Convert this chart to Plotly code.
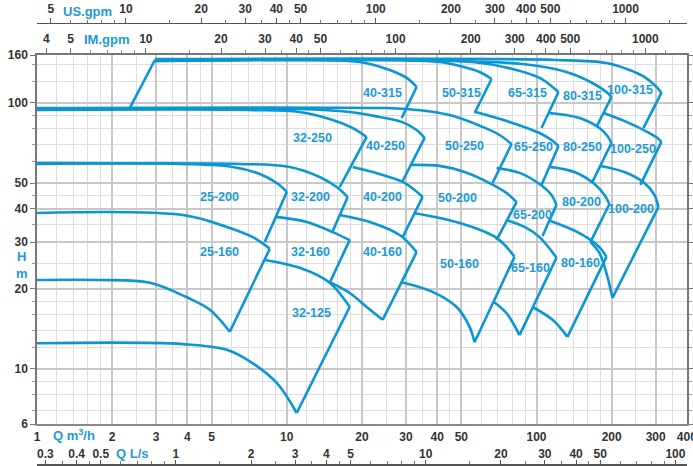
import numpy as np
import plotly.graph_objects as go

# ---------------- axis ticks ----------------
q_ticks = [1, 2, 3, 4, 5, 10, 20, 30, 40, 50, 100, 200, 300, 400]
q_minor = [1.2, 1.4, 1.6, 1.8, 2.5, 3.5, 4.5, 6, 7, 8, 9, 12, 14, 16, 18, 25, 35, 45,
           60, 70, 80, 90, 120, 140, 160, 180, 250, 350]
h_ticks = [6.21, 10, 20, 30, 40, 50, 100, 151.5]
h_tick_text = ["6", "10", "20", "30", "40", "50", "100", "160"]
h_minor = [7, 8, 9, 12, 14, 16, 18, 25, 35, 45, 60, 70, 80, 90, 120, 140]
us_ticks = [5, 10, 20, 30, 40, 50, 100, 200, 300, 400, 500, 1000]
us_minor = [6, 7, 8, 9, 15, 25, 35, 45, 60, 70, 80, 90, 150, 250, 350, 450, 600, 700, 800, 900, 1500]
im_ticks = [4, 5, 10, 20, 30, 40, 50, 100, 200, 300, 400, 500, 1000]
im_minor = [6, 7, 8, 9, 15, 25, 35, 45, 60, 70, 80, 90, 150, 250, 350, 450, 600, 700, 800, 900, 1200]
ls_ticks = [0.3, 0.4, 0.5, 1, 2, 3, 4, 5, 10, 20, 30, 40, 50, 100]
ls_minor = [0.35, 0.45, 0.6, 0.7, 0.8, 0.9, 1.5, 2.5, 3.5, 4.5, 6, 7, 8, 9, 15, 25, 35, 45, 60, 70, 80, 90]

Q_RANGE = [1, 400.4]        # m3/h
H_RANGE = [6.21, 151.5]     # m
US_PER_M3H = 4.403
IM_PER_M3H = 3.666
LS_PER_M3H = 1 / 3.6

# ---------------- pump curves (Q m3/h, H m) ----------------
# top (max) curve of each tile, ending at its right-hand vertex
row_315 = {
    "40-315": ([2.965, 11.27, 19.59, 25.82, 30.20, 33.11], [145.1, 145.1, 142.6, 133.1, 124.2, 114.9]),
    "50-315": ([2.965, 28.31, 40.93, 49.20, 59.16, 66.07], [145.1, 145.1, 142.6, 137.8, 130.8, 123.1]),
    "65-315": ([2.965, 55.46, 80.17, 102.8, 115.9, 122.5], [143.8, 142.6, 134.2, 124.2, 114.9, 110.0]),
    "80-315": ([2.965, 87.90, 131.8, 167.5, 190.5, 199.5], [143.8, 140.2, 130.8, 118.9, 110.0, 105.3]),
    "100-315": ([2.965, 120.2, 190.5, 235.5, 270.4, 302.0, 316.2], [146.3, 145.1, 141.4, 133.1, 125.3, 114.9, 109.1]),
}
row_250 = {
    "32-250": ([1, 7.112, 11.27, 15.28, 18.37, 20.89], [94.1, 94.1, 92.5, 86.3, 80.5, 74.5]),
    "40-250": ([1, 11.27, 17.86, 23.55, 28.84, 33.11, 35.65], [94.9, 94.9, 92.5, 88.6, 84.9, 79.2, 73.9]),
    "50-250": ([1, 23.55, 30.20, 44.87, 60.81, 71.12, 79.43], [95.8, 95.8, 94.9, 90.1, 81.3, 75.8, 70.1]),
    "65-250": ([57.02, 77.98, 102.8, 114.8, 122.5], [92.5, 84.9, 77.1, 72.6, 68.9]),
    "80-250": ([111.7, 148.6, 178.6, 192.3, 199.5], [91.7, 87.8, 80.5, 75.1, 70.7]),
    "100-250": ([185.4, 229.1, 283.1, 304.8, 316.2], [91.7, 84.9, 77.1, 73.9, 71.4]),
}
row_200 = {
    "25-200": ([1, 3.733, 6.081, 7.798, 9.120, 10.0], [59.5, 58.98, 57.5, 54.1, 50.0, 46.3]),
    "32-200": ([1, 6.486, 10.28, 13.55, 15.85, 17.54], [58.98, 58.98, 57.5, 52.7, 48.3, 44.3]),
    "40-200": ([18.37, 22.08, 29.11, 32.51, 34.99], [57.5, 55.0, 50.5, 47.1, 44.3]),
    "50-200": ([31.33, 40.93, 51.52, 64.86, 75.86, 83.18], [58.5, 58.0, 55.0, 50.0, 45.9, 42.4]),
    "65-200": ([69.18, 85.51, 102.8, 114.8, 120.2], [57.0, 54.6, 49.6, 45.1, 41.4]),
    "80-200": ([112.7, 141.9, 170.6, 187.1, 195.9], [57.5, 55.0, 49.6, 45.1, 41.7]),
    "100-200": ([180.3, 224.9, 270.4, 296.5, 307.6], [58.0, 55.0, 50.0, 45.1, 40.6]),
}
row_160 = {
    "25-160": ([1, 3.837, 5.754, 7.311, 8.551], [38.6, 37.9, 34.2, 31.3, 28.3]),
    "32-160": ([9.036, 12.02, 15.28, 17.86], [37.3, 35.7, 32.7, 30.5]),
    "40-160": ([16.29, 22.08, 28.31, 33.11], [37.9, 35.4, 31.9, 27.5]),
    "50-160": ([32.21, 49.20, 69.18, 81.66], [38.6, 35.4, 31.1, 26.4]),
    "65-160": ([75.86, 89.54, 102.8, 120.2], [36.3, 34.2, 31.3, 26.2]),
    "80-160": ([113.8, 148.6, 178.6, 190.5], [36.0, 32.4, 28.7, 26.4]),
}
row_125 = {
    "32-125": ([8.166, 11.27, 14.86, 16.75, 17.86], [25.7, 24.0, 21.1, 18.6, 17.1]),
}

# lower end of each tile's right-hand edge
edge_end = {
    "40-315": (28.84, 87.8), "50-315": (56.49, 91.7), "65-315": (104.7, 80.5),
    "80-315": (173.8, 81.3), "100-315": (267.9, 80.5),
    "32-250": (16.29, 48.3), "40-250": (29.11, 50.9), "50-250": (66.68, 50.0),
    "65-250": (104.7, 49.2), "80-250": (167.5, 50.5), "100-250": (260.6, 49.2),
    "25-200": (8.166, 30.0), "32-200": (15.28, 33.0), "40-200": (29.11, 31.3),
    "50-200": (69.18, 30.5), "65-200": (105.7, 31.6), "80-200": (164.4, 30.0),
    "100-200": (201.4, 18.5),
    "25-160": (5.916, 13.8), "32-160": (14.86, 21.1), "40-160": (24.21, 15.3),
    "50-160": (56.49, 12.6), "65-160": (85.51, 13.4), "80-160": (133.0, 13.2),
    "32-125": (10.96, 6.83),
}

# minimum-impeller curves of the lowest tiles
bottom_curves = {
    "25-160": ([1, 1.786, 2.831, 3.981, 4.920, 5.916], [21.6, 21.6, 21.1, 18.6, 16.7, 13.8]),
    "32-125": ([1, 3.837, 5.754, 7.311, 9.120, 10.96], [12.5, 12.4, 11.8, 10.5, 8.86, 6.83]),
    "40-160": ([14.86, 17.86, 20.89, 24.21], [21.2, 19.3, 17.1, 15.3]),
    "50-160": ([28.84, 38.37, 47.86, 53.95, 56.49], [21.2, 19.5, 17.1, 14.4, 12.6]),
    "65-160": ([67.3, 75.86, 85.51], [17.9, 16.2, 13.4]),
    "80-160": ([96.38, 115.9, 133.0], [17.1, 15.3, 13.2]),
    "100-200": ([164.4, 178.6, 192.3, 201.4], [30.0, 27.3, 22.2, 18.5]),
}
left_edge_40_315 = ([2.355, 2.965], [95.8, 145.1])

# tile labels (Q, H)
label_pos = {
    "40-315": (24.21, 109.1), "50-315": (50.1, 109.1), "65-315": (92.0, 109.1),
    "80-315": (152.8, 106.2), "100-315": (237.7, 111.9),
    "32-250": (12.71, 73.9), "40-250": (24.89, 68.9), "50-250": (51.52, 68.9),
    "65-250": (97.0, 68.3), "80-250": (152.8, 68.3), "100-250": (244.3, 67.2),
    "25-200": (5.395, 44.3), "32-200": (12.47, 44.3), "40-200": (24.21, 44.3),
    "50-200": (48.3, 43.9), "65-200": (96.38, 37.9), "80-200": (151.4, 42.4),
    "100-200": (239.9, 40.0),
    "25-160": (5.395, 27.5), "32-160": (12.47, 27.5), "40-160": (24.21, 27.5),
    "50-160": (49.2, 24.8), "65-160": (94.6, 24.0), "80-160": (150.0, 25.0),
    "32-125": (12.59, 16.2),
}

# ---------------- styling ----------------
LINE = "#0a96d4"
LABEL = "#1c9ad6"
TXT = "#333333"
FONT = "Liberation Sans, Arial, sans-serif"
W, Hgt = 693, 466
X_DOMAIN = [37 / W, 687 / W]
Y_DOMAIN = [(Hgt - 424) / Hgt, (Hgt - 55) / Hgt]

fig = go.Figure()


def add_line(q, h, shape="spline"):
    fig.add_trace(go.Scatter(x=q, y=h, mode="lines", xaxis="x", yaxis="y",
                             line=dict(color=LINE, width=2.6, shape=shape, smoothing=1.0),
                             hoverinfo="skip", showlegend=False))


for row in (row_315, row_250, row_200, row_160, row_125):
    for name, (q, h) in row.items():
        add_line(q, h, "spline")
        qe, he = edge_end[name]
        add_line([q[-1], qe], [h[-1], he], "linear")

for name, (q, h) in bottom_curves.items():
    add_line(q, h, "spline")
add_line(left_edge_40_315[0], left_edge_40_315[1], "linear")

# dummy traces so the secondary axes are drawn
for ax, rng in (("x2", IM_PER_M3H), ("x3", US_PER_M3H), ("x4", LS_PER_M3H)):
    fig.add_trace(go.Scatter(x=[Q_RANGE[0] * rng, Q_RANGE[1] * rng], y=[None, None], xaxis=ax, yaxis="y",
                             mode="lines", hoverinfo="skip", showlegend=False))

annotations = []
for name, (q, h) in label_pos.items():
    annotations.append(dict(x=np.log10(q), y=np.log10(h), xref="x", yref="y", text=name, showarrow=False,
                            font=dict(family=FONT, size=12.5, color=LABEL, weight="bold")))

axis_titles = [
    ("US.gpm", 87, 12), ("IM.gpm", 107, 40), ("Q m<sup>3</sup>/h", 74, 435),
    ("Q L/s", 132, 453), ("H<br>m", 22, 265),
]
for text, px, py in axis_titles:
    annotations.append(dict(x=px / W, y=1 - py / Hgt, xref="paper", yref="paper", text=text, showarrow=False,
                            font=dict(family=FONT, size=13, color=LABEL, weight="bold"),
                            xanchor="center", yanchor="middle"))

tickfont = dict(family=FONT, size=12, color=TXT, weight="bold")


def lg(v):
    return [np.log10(v[0]), np.log10(v[1])]


fig.update_layout(
    width=W, height=Hgt, template="none",
    margin=dict(l=0, r=0, t=0, b=0, pad=0),
    paper_bgcolor="white", plot_bgcolor="white",
    showlegend=False,
    annotations=annotations,
    xaxis=dict(type="log", range=lg(Q_RANGE), domain=X_DOMAIN, anchor="y", side="bottom",
               tickmode="array", tickvals=q_ticks, ticktext=[str(v) for v in q_ticks],
               ticks="", showgrid=True, gridcolor="#c8c8c8", gridwidth=1.6,
               minor=dict(tickmode="array", tickvals=q_minor, showgrid=True, gridcolor="#dedede", gridwidth=1, ticks=""),
               showline=True, linecolor="#8a8a8a", linewidth=1.5, zeroline=False,
               tickfont=tickfont, ticklabelstandoff=1, ticklabeloverflow="allow",
               automargin=False, fixedrange=True),
    yaxis=dict(type="log", range=lg(H_RANGE), domain=Y_DOMAIN, anchor="x",
               tickmode="array", tickvals=h_ticks, ticktext=h_tick_text,
               ticks="outside", ticklen=5, tickcolor="#777", tickwidth=1.2,
               showgrid=True, gridcolor="#c8c8c8", gridwidth=1.6,
               minor=dict(tickmode="array", tickvals=h_minor, showgrid=True, gridcolor="#dedede", gridwidth=1,
                          ticks="outside", ticklen=3, tickcolor="#999"),
               showline=True, linecolor="#777", linewidth=1.5, mirror="ticks", zeroline=False,
               tickfont=tickfont, automargin=False, fixedrange=True),
    xaxis2=dict(type="log", range=lg([Q_RANGE[0] * IM_PER_M3H, Q_RANGE[1] * IM_PER_M3H]),
                overlaying="x", anchor="y", side="top",
                tickmode="array", tickvals=im_ticks, ticktext=[str(v) for v in im_ticks],
                ticks="outside", ticklen=5, tickcolor="#666", tickwidth=1.2,
                minor=dict(tickmode="array", tickvals=im_minor, ticks="outside", ticklen=3, tickcolor="#888"),
                showgrid=False, showline=True, linecolor="#777", linewidth=1.5, zeroline=False,
                tickfont=tickfont, automargin=False, fixedrange=True),
    xaxis3=dict(type="log", range=lg([Q_RANGE[0] * US_PER_M3H, Q_RANGE[1] * US_PER_M3H]),
                overlaying="x", anchor="free", position=(Hgt - 23) / Hgt, side="top",
                tickmode="array", tickvals=us_ticks, ticktext=[str(v) for v in us_ticks],
                ticks="outside", ticklen=5, tickcolor="#555", tickwidth=1.2,
                minor=dict(tickmode="array", tickvals=us_minor, ticks="outside", ticklen=3, tickcolor="#777"),
                showgrid=False, showline=True, linecolor="#555", linewidth=1.3, zeroline=False,
                tickfont=tickfont, automargin=False, fixedrange=True),
    xaxis4=dict(type="log", range=lg([Q_RANGE[0] * LS_PER_M3H, Q_RANGE[1] * LS_PER_M3H]),
                overlaying="x", anchor="free", position=(Hgt - 464.5) / Hgt, side="top",
                tickmode="array", tickvals=ls_ticks, ticktext=[str(v) for v in ls_ticks],
                ticks="outside", ticklen=4, tickcolor="#555", tickwidth=1.2,
                minor=dict(tickmode="array", tickvals=ls_minor, ticks="outside", ticklen=3, tickcolor="#777"),
                showgrid=False, showline=True, linecolor="#555", linewidth=1.5, zeroline=False,
                tickfont=tickfont, ticklabelstandoff=-3, automargin=False, fixedrange=True),
)

fig.write_html("out.html", config={"displayModeBar": False},
               post_script="document.body.style.margin='0';document.body.style.padding='0';")
